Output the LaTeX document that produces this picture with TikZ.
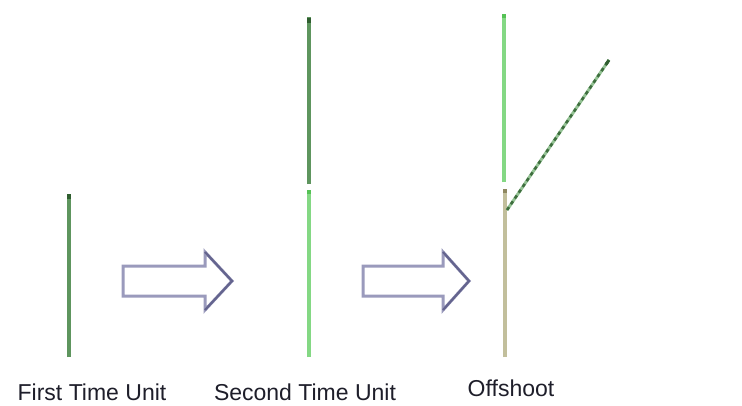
\documentclass[tikz,border=0pt]{standalone}
\usepackage{fontspec}
\setmainfont{Liberation Sans}
\definecolor{stemdark}{HTML}{5E955E}
\definecolor{stemlight}{HTML}{84D884}
\definecolor{stemtan}{HTML}{C2BF9C}
\definecolor{tipdark}{HTML}{2F5E2F}
\definecolor{tiplight}{HTML}{55C255}
\definecolor{tiptan}{HTML}{8E8760}
\definecolor{dashdark}{HTML}{3E6E3E}
\definecolor{dashlight}{HTML}{94C294}
\definecolor{arrowedge}{HTML}{9A9ABC}
\definecolor{arrowhead}{HTML}{64648E}
\definecolor{labelcol}{HTML}{1E1E2A}
\begin{document}
\begin{tikzpicture}[x=1pt,y=-1pt,
  stem/.style={line width=3.5pt},
  tipdot/.style={line width=3.5pt},
  lbl/.style={inner sep=0pt, anchor=base, text=labelcol, font=\fontsize{23}{27}\selectfont},
  bigarrow/.style={draw=arrowedge, fill=white, line width=3pt, line join=miter},
  headedge/.style={draw=arrowhead, line width=2.2pt}]
\useasboundingbox (0,0) rectangle (742,405);
\fill[white] (0,0) rectangle (742,405);

% first time unit
\coordinate (a0) at (69,357);
\coordinate (a1) at (69,194);
\draw[stem, stemdark] (a0) -- (a1);
\draw[tipdot, tipdark] (69,194) -- (69,199);

% second time unit
\coordinate (b0) at (309,357);
\coordinate (b1) at (309,190);
\coordinate (b2) at (309,184);
\coordinate (b3) at (309,17);
\draw[stem, stemlight] (b0) -- (b1);
\draw[stem, stemdark] (b2) -- (b3);
\draw[tipdot, tiplight] (309,190) -- (309,194);
\draw[tipdot, tipdark] (309,18) -- (309,23);

% offshoot
\coordinate (c0) at (505,357);
\coordinate (c1) at (505,189);
\coordinate (c2) at (504,182);
\coordinate (c3) at (504,14);
\coordinate (d0) at (507,210);
\coordinate (d1) at (609,60);
\draw[stem, stemtan] (c0) -- (c1);
\draw[tipdot, tiptan] (505,189) -- (505,193);
\draw[stem, stemlight] (c2) -- (c3);
\draw[tipdot, tiplight] (504,14) -- (504,18);
\draw[line width=3pt, dashlight] (d0) -- (d1);
\draw[line width=2.6pt, dashdark, dash pattern=on 3.5pt off 3.5pt] (d0) -- (d1);
\draw[tipdot, tipdark, line width=3pt] (606,64.4) -- (609,60);

% block arrows
\draw[bigarrow] (123,266) -- (205,266) -- (205,252) -- (232,281) -- (205,310) -- (205,296) -- (123,296) -- cycle;
\draw[headedge] (205,252) -- (232,281) -- (205,310);
\draw[bigarrow] (363,266) -- (443,266) -- (443,252) -- (469,281) -- (443,310) -- (443,296) -- (363,296) -- cycle;
\draw[headedge] (443,252) -- (469,281) -- (443,310);

% labels
\node[lbl] (l1) at (92,400) {First Time Unit};
\node[lbl] (l2) at (305,400) {Second Time Unit};
\node[lbl] (l3) at (511,396) {Offshoot};
\end{tikzpicture}
\end{document}
